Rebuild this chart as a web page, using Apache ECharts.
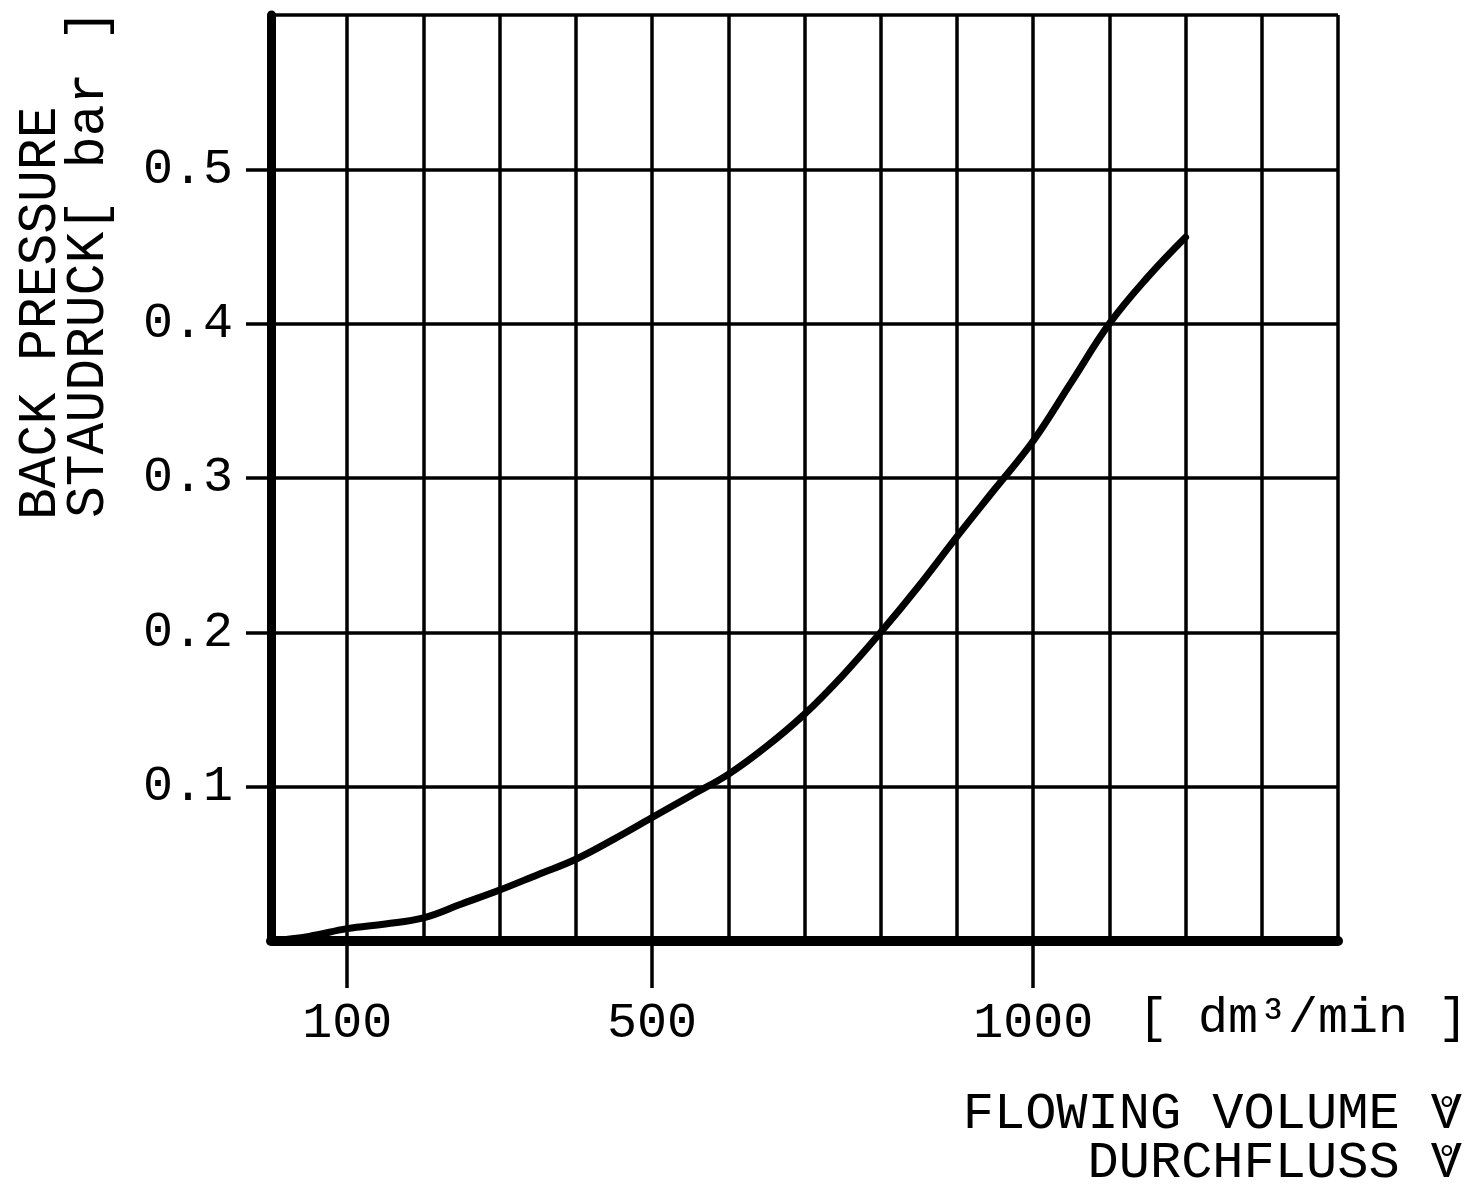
<!DOCTYPE html>
<html><head><meta charset="utf-8">
<script src="https://cdn.jsdelivr.net/npm/echarts@6/dist/echarts.min.js"></script>
<style>html,body{margin:0;padding:0;background:#fff}#c{width:1468px;height:1188px}</style>
</head><body><div id="c"></div>
<script>
// Flow volume [dm³/min] and back pressure [bar]
const flowValues     = [0, 50, 100, 150, 200, 250, 300, 350, 400, 450, 500, 550, 600, 650, 700, 750, 800, 850, 900, 950, 1000, 1050, 1100, 1150, 1200];
const pressureValues = [0, 0.003, 0.008, 0.011, 0.015, 0.024, 0.033, 0.043, 0.053, 0.066, 0.080, 0.094, 0.108, 0.126, 0.147, 0.172, 0.200, 0.230, 0.262, 0.293, 0.324, 0.362, 0.400, 0.430, 0.456];
const xTickLabels = [100, 500, 1000];
const yTickLabels = [0.1, 0.2, 0.3, 0.4, 0.5];
const xUnit = '[ dm³/min ]';
const yTitle = ['BACK PRESSURE', 'STAUDRUCK[ bar ]'];
const xTitle = ['FLOWING VOLUME V', 'DURCHFLUSS V'];
const ringMark = '°';

const FONT = 'Liberation Mono';
const chart = echarts.init(document.getElementById('c'), null, {renderer: 'canvas'});
const seriesData = flowValues.map((x, i) => [x, pressureValues[i]]);
const GRID_W = 3.5;

function txt(x, y, text, size, align, extra) {
  return Object.assign({
    type: 'text', x: x, y: y,
    style: {text: text, fill: '#000', font: size + 'px "' + FONT + '"', textAlign: align, textVerticalAlign: 'middle'}
  }, extra || {});
}

chart.setOption({
  backgroundColor: '#fff',
  animation: false,
  grid: {left: 271, right: 130, top: 15, bottom: 247, containLabel: false},
  xAxis: [{
    type: 'value', min: 0, max: 1400, interval: 100, position: 'bottom',
    axisLine: {show: true, lineStyle: {color: '#000', width: 10}},
    axisTick: {show: false}, axisLabel: {show: false},
    splitLine: {show: true, lineStyle: {color: '#000', width: GRID_W}}, z: 2
  }, {
    type: 'value', min: 0, max: 1400, position: 'bottom', offset: 0,
    axisLine: {show: false},
    axisTick: {show: true, customValues: xTickLabels, length: 47, lineStyle: {color: '#000', width: GRID_W}},
    axisLabel: {show: true, customValues: xTickLabels, margin: 58, color: '#000', fontFamily: FONT, fontSize: 50,
      formatter: v => String(v)},
    splitLine: {show: false}
  }],
  yAxis: [{
    type: 'value', min: 0, max: 0.6, interval: 0.1, position: 'left',
    axisLine: {show: true, lineStyle: {color: '#000', width: 9}},
    axisTick: {show: false}, axisLabel: {show: false},
    splitLine: {show: true, lineStyle: {color: '#000', width: GRID_W}}, z: 2
  }, {
    type: 'value', min: 0, max: 0.6, position: 'left', offset: 0,
    axisLine: {show: false},
    axisTick: {show: true, customValues: yTickLabels, length: 25, lineStyle: {color: '#000', width: GRID_W}},
    axisLabel: {show: true, customValues: yTickLabels, margin: 38, color: '#000', fontFamily: FONT, fontSize: 50,
      formatter: v => Number(v).toFixed(1)},
    splitLine: {show: false}
  }],
  series: [{
    type: 'line', xAxisIndex: 0, yAxisIndex: 0, data: seriesData, smooth: 0.4, symbol: 'none',
    lineStyle: {color: '#000', width: 7, cap: 'round', join: 'round'}, z: 5
  }],
  graphic: [
    txt(1138, 1019, xUnit, 50, 'left'),
    txt(1462, 1114, xTitle[0], 52, 'right'),
    txt(1462, 1163, xTitle[1], 52, 'right'),
    txt(1447, 1112, ringMark, 38, 'center'),
    txt(1447, 1161, ringMark, 38, 'center'),
    txt(41, 520, yTitle[0], 53, 'left', {rotation: Math.PI / 2}),
    txt(89, 518, yTitle[1], 53, 'left', {rotation: Math.PI / 2})
  ]
});
</script>
</body></html>
